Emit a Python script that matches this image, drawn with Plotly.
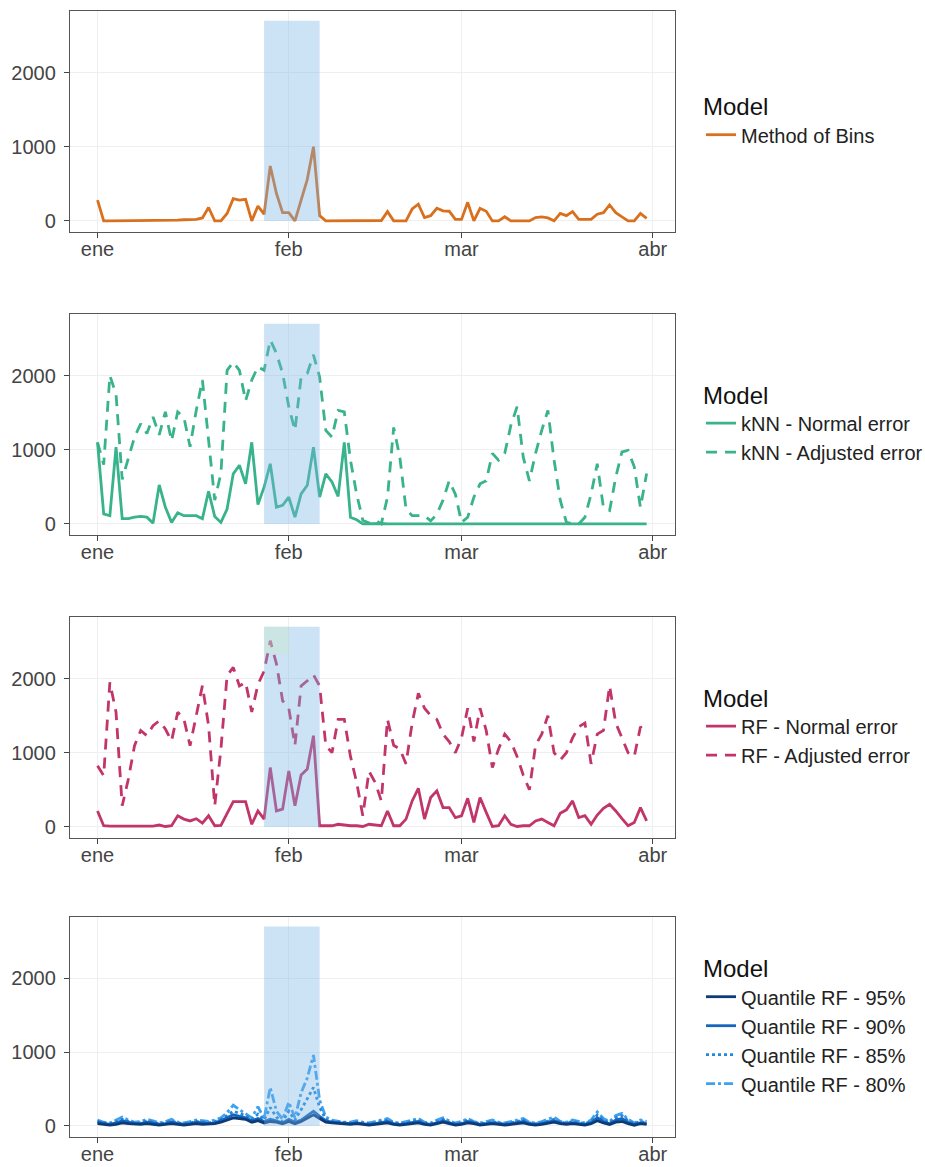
import pandas as pd
import plotly.graph_objects as go

# ---------------- data ----------------
start_date = "2019-01-01"
month_ticks = ["2019-01-01", "2019-02-01", "2019-03-01", "2019-04-01"]
month_labels = ["ene", "feb", "mar", "abr"]

method_of_bins = [
    280, 0, 0, 0, 0, 0, 0, 0, 0, 10,
    5, 0, 0, 10, 15, 20, 20, 40, 180, 0,
    0, 100, 300, 280, 290, 0, 200, 90, 740, 370,
    110, 110, 0, 280, 560, 1000, 70, 0, 0, 0,
    0, 0, 0, 0, 0, 0, 5, 125, 0, 0,
    0, 160, 225, 45, 70, 170, 135, 130, 20, 20,
    250, 0, 170, 130, 0, 0, 55, 0, 0, 0,
    0, 45, 55, 40, 0, 100, 70, 125, 20, 20,
    20, 90, 110, 215, 110, 55, 0, 0, 100, 35,
]

knn_normal = [
    1100, 135, 110, 1035, 70, 70, 90, 100, 90, 10,
    525, 225, 20, 150, 110, 110, 110, 70, 440, 100,
    20, 200, 675, 790, 540, 1100, 260, 495, 810, 225,
    250, 360, 90, 405, 520, 1035, 360, 675, 565, 370,
    1100, 90, 55, 0, 5, 0, 5, 0, 0, 0,
    0, 0, 0, 0, 0, 0, 0, 0, 0, 0,
    0, 0, 0, 0, 0, 0, 0, 0, 0, 0,
    0, 0, 0, 0, 0, 0, 0, 0, 0, 0,
    0, 0, 0, 0, 0, 0, 0, 0, 0, 0,
]

knn_adjusted = [
    1100, 800, 2000, 1750, 600, 900, 1170, 1350, 1220, 1440,
    1200, 1510, 1120, 1510, 1440, 1040, 1530, 1940, 1080, 320,
    680, 2070, 2180, 2070, 1660, 1940, 2120, 2070, 2480, 2300,
    2030, 1580, 1260, 1980, 2030, 2280, 1980, 1260, 1170, 1530,
    1510, 860, 400, 50, 10, 50, 0, 360, 1300, 900,
    200, 110, 110, 110, 40, 130, 320, 580, 400, 20,
    90, 360, 540, 580, 950, 860, 950, 1330, 1580, 900,
    580, 950, 1260, 1530, 860, 320, 20, 0, 0, 90,
    400, 810, 220, 180, 630, 970, 990, 770, 220, 680,
]

rf_normal = [
    215, 15, 10, 10, 10, 10, 10, 10, 10, 10,
    25, 5, 15, 150, 105, 80, 110, 50, 150, 15,
    20, 170, 340, 340, 340, 35, 215, 105, 800, 215,
    240, 755, 285, 700, 780, 1230, 15, 15, 15, 35,
    20, 15, 15, 5, 35, 20, 15, 215, 15, 15,
    105, 350, 520, 105, 395, 485, 260, 260, 125, 150,
    385, 60, 395, 195, 5, 15, 150, 35, 5, 15,
    15, 80, 105, 60, 15, 185, 230, 350, 125, 150,
    35, 160, 250, 305, 215, 110, 15, 60, 260, 80,
]

rf_adjusted = [
    825, 690, 1950, 1545, 285, 645, 1095, 1300, 1230, 1365,
    1430, 1320, 1160, 1545, 1455, 1095, 1500, 1905, 1365, 285,
    1050, 2040, 2150, 1900, 1950, 1550, 1920, 2100, 2510, 2200,
    1700, 1600, 1100, 1900, 1970, 2050, 1900, 1100, 1000, 1450,
    1450, 950, 600, 150, 750, 600, 350, 1450, 1100, 1050,
    850, 1400, 1800, 1600, 1500, 1450, 1250, 1150, 1000, 1200,
    1600, 1150, 1600, 1300, 800, 1050, 1250, 1150, 950, 700,
    500, 1100, 1250, 1500, 1000, 900, 1000, 1200, 1350, 1400,
    850, 1250, 1300, 1900, 1400, 1200, 1000, 950, 1350, 1250,
]

qrf_95 = [
    30, 20, 10, 20, 40, 30, 20, 20, 30, 20,
    10, 20, 30, 20, 10, 20, 30, 20, 20, 30,
    50, 80, 110, 100, 90, 50, 70, 40, 60, 50,
    30, 60, 30, 60, 110, 150, 100, 50, 40, 30,
    20, 20, 30, 20, 10, 20, 30, 40, 20, 10,
    20, 30, 40, 20, 10, 30, 50, 30, 10, 20,
    40, 30, 10, 20, 30, 20, 10, 20, 30, 40,
    20, 10, 20, 30, 50, 30, 20, 30, 20, 10,
    30, 70, 40, 20, 50, 60, 30, 10, 30, 20,
]

qrf_90 = [
    50, 30, 20, 40, 70, 50, 30, 30, 50, 40,
    20, 30, 50, 30, 20, 30, 50, 40, 30, 40,
    70, 110, 150, 130, 110, 70, 100, 60, 90, 70,
    40, 90, 50, 80, 140, 200, 130, 70, 50, 40,
    30, 30, 40, 30, 20, 30, 40, 60, 30, 20,
    30, 40, 60, 30, 20, 40, 70, 40, 20, 30,
    60, 40, 20, 30, 40, 30, 20, 30, 40, 60,
    30, 20, 30, 50, 70, 40, 30, 40, 30, 20,
    40, 110, 60, 30, 80, 100, 50, 20, 40, 30,
]

qrf_85 = [
    60, 40, 30, 60, 90, 60, 40, 40, 70, 50,
    30, 40, 70, 40, 30, 40, 60, 50, 40, 60,
    90, 140, 200, 170, 140, 90, 160, 80, 250, 120,
    60, 200, 80, 220, 380, 520, 250, 90, 60, 50,
    40, 40, 50, 40, 30, 40, 60, 80, 40, 30,
    40, 60, 80, 40, 30, 60, 90, 50, 30, 40,
    80, 50, 30, 40, 60, 40, 30, 40, 60, 80,
    40, 30, 40, 70, 90, 50, 40, 60, 40, 30,
    60, 150, 80, 40, 110, 140, 70, 30, 60, 40,
]

qrf_80 = [
    80, 50, 40, 80, 120, 80, 50, 60, 90, 70,
    40, 60, 90, 50, 40, 60, 80, 70, 60, 80,
    110, 180, 280, 220, 170, 110, 260, 100, 520, 200,
    90, 320, 110, 450, 650, 960, 350, 120, 80, 60,
    50, 50, 70, 50, 40, 60, 80, 100, 50, 40,
    60, 80, 100, 50, 40, 80, 110, 70, 40, 60,
    100, 60, 40, 60, 80, 50, 40, 60, 80, 100,
    50, 40, 60, 90, 120, 60, 50, 80, 60, 40,
    80, 190, 100, 60, 140, 170, 90, 40, 80, 60,
]

highlight_start = "2019-01-28"
highlight_end = "2019-02-06"
highlight_top = 2700

# ---------------- figure ----------------
W, H = 925, 1167
ML, MR = 70, 250
FONT = "Liberation Sans, Arial, sans-serif"

dates = pd.date_range(start_date, periods=len(method_of_bins), freq="D")

panels_px = [(11, 232), (314, 535), (617, 838), (917, 1137)]

fig = go.Figure()

def add(y, name, color, dash, panel, rank, width=2.8):
    sfx = "" if panel == 1 else str(panel)
    fig.add_trace(go.Scatter(
        x=dates, y=y, name=name, mode="lines",
        line=dict(color=color, width=width, dash=dash),
        xaxis="x" + sfx, yaxis="y" + sfx,
        legend="legend" + sfx, legendrank=rank, showlegend=True,
    ))

DASH = "11px,8px"
add(method_of_bins, "Method of Bins", "#D9701E", "solid", 1, 1)
add(knn_adjusted, "kNN - Adjusted error", "#38B38B", DASH, 2, 2)
add(knn_normal, "kNN - Normal error", "#38B38B", "solid", 2, 1)
add(rf_adjusted, "RF - Adjusted error", "#C2356A", DASH, 3, 2)
add(rf_normal, "RF - Normal error", "#C2356A", "solid", 3, 1)
add(qrf_80, "Quantile RF - 80%", "#3FA2F0", "dashdot", 4, 4)
add(qrf_85, "Quantile RF - 85%", "#2289DE", "dot", 4, 3)
add(qrf_90, "Quantile RF - 90%", "#1565BE", "solid", 4, 2)
add(qrf_95, "Quantile RF - 95%", "#0D3B78", "solid", 4, 1)

x_range = [pd.Timestamp(start_date) - pd.Timedelta(days=4.46),
           pd.Timestamp(start_date) + pd.Timedelta(days=93.6)]

layout = dict(
    width=W, height=H,
    margin=dict(l=ML, r=MR, t=0, b=0, autoexpand=False),
    paper_bgcolor="white", plot_bgcolor="white",
    font=dict(family=FONT, size=20, color="#222"),
    showlegend=True,
    shapes=[],
)

for i, (top, bot) in enumerate(panels_px, start=1):
    sfx = "" if i == 1 else str(i)
    dom = [1 - bot / H, 1 - top / H]
    layout["xaxis" + sfx] = dict(
        domain=[0, 1], anchor="y" + sfx, type="date", range=x_range,
        tickvals=month_ticks, ticktext=month_labels,
        ticks="outside", ticklen=5, tickcolor="#444", tickwidth=1,
        showline=True, linecolor="#555", linewidth=1.3, mirror=True,
        showgrid=True, gridcolor="#EFEFEF", gridwidth=1, zeroline=False,
        tickfont=dict(size=20, color="#444", family=FONT),
        ticklabelstandoff=-6,
    )
    layout["yaxis" + sfx] = dict(
        domain=dom, anchor="x" + sfx, range=[-150, 2830],
        tickvals=[0, 1000, 2000],
        ticks="outside", ticklen=5, tickcolor="#444", tickwidth=1,
        showline=True, linecolor="#555", linewidth=1.3, mirror=True,
        showgrid=True, gridcolor="#EFEFEF", gridwidth=1, zeroline=False,
        tickfont=dict(size=20, color="#444", family=FONT),
        ticklabelstandoff=4,
    )
    layout["legend" + sfx] = dict(
        x=1.043, xanchor="left", xref="paper",
        y=1 - ((top + bot) / 2 - 2) / H, yanchor="middle", yref="paper",
        title=dict(text="Model", font=dict(size=24, color="#111", family=FONT)),
        font=dict(size=20, color="#222", family=FONT),
        bgcolor="rgba(0,0,0,0)", tracegroupgap=0, itemwidth=30,
        visible=True,
    )
    layout["shapes"].append(dict(
        type="rect", xref="x" + sfx, yref="y" + sfx,
        x0=highlight_start, x1=highlight_end, y0=0, y1=highlight_top,
        fillcolor="rgba(120,180,230,0.38)", line=dict(width=0), layer="above",
    ))

# faint greenish tint seen in the third panel's highlight
layout["shapes"].append(dict(
    type="rect", xref="x3", yref="y3",
    x0=highlight_start, x1="2019-02-01", y0=2330, y1=highlight_top,
    fillcolor="rgba(200,235,190,0.3)", line=dict(width=0), layer="above",
))

fig.update_layout(**layout)
fig.write_html("out.html")
